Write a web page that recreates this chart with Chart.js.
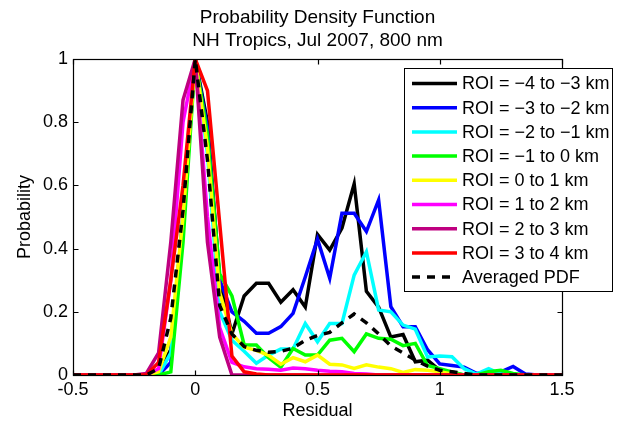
<!DOCTYPE html>
<html><head><meta charset="utf-8">
<script src="https://cdn.jsdelivr.net/npm/chart.js@4/dist/chart.umd.min.js"></script>
<style>html,body{margin:0;padding:0;background:#fff;}#wrap{width:625px;height:421px;}</style>
</head><body><div id="wrap"><canvas id="c" width="625" height="421"></canvas></div>
<script>
const residualBins = [-0.5,-0.45,-0.4,-0.35,-0.3,-0.25,-0.2,-0.15,-0.1,-0.05,0,0.05,0.1,0.15,0.2,0.25,0.3,0.35,0.4,0.45,0.5,0.55,0.6,0.65,0.7,0.75,0.8,0.85,0.9,0.95,1,1.05,1.1,1.15,1.2,1.25,1.3,1.35,1.4,1.45,1.5];

const roiM4 = [0,0,0,0,0,0, 0,0.01,0.08,0.5, 1, 0.8,0.3,0.13,0.25,0.29,0.29,0.23,0.27,0.215,0.445,0.395,0.465,0.605,0.265,0.215,0.12,0.128,0.042,0.047,0.015,0.005, 0,0,0,0,0,0,0,0,0];
const roiM3 = [0,0,0,0,0,0, 0,0,0.04,0.48, 1, 0.78,0.3,0.2,0.17,0.132,0.132,0.153,0.195,0.31,0.43,0.306,0.512,0.512,0.454,0.554,0.216,0.153,0.153,0.08,0.035,0.03,0.025,0.005,0.01,0.01,0.027,0.003,0,0,0];
const roiM2 = [0,0,0,0,0,0, 0,0,0.07,0.5, 1, 0.7,0.2,0.11,0.075,0.037,0.063,0.082,0.082,0.163,0.105,0.163,0.163,0.316,0.39,0.206,0.2,0.158,0.145,0.057,0.06,0.058,0.02,0.003,0.02,0.003,0,0,0,0,0];
const roiM1 = [0,0,0,0,0,0, 0,0,0.01,0.42, 1, 0.76,0.32,0.25,0.095,0.095,0.055,0.025,0.084,0.063,0.063,0.11,0.116,0.074,0.13,0.116,0.113,0.093,0.1,0.03,0.02,0.01,0,0,0.01,0.015,0.005,0,0,0,0];
const roi0  = [0,0,0,0,0,0, 0,0.01,0.12,0.5, 1, 0.72,0.26,0.13,0.088,0.078,0.062,0.034,0.055,0.042,0.063,0.034,0.032,0.021,0.032,0.025,0.02,0.008,0.017,0.015,0.01,0.003,0,0,0,0,0,0,0,0,0];
const roi1  = [0,0,0,0,0,0, 0,0.02,0.3,0.8, 1, 0.5,0.15,0.04,0.026,0.02,0.018,0.015,0.022,0.02,0.015,0.012,0.01,0.005,0.003,0,0,0,0,0,0,0,0,0,0,0,0,0,0,0,0];
const roi2  = [0,0,0,0,0,0, 0.005,0.07,0.42,0.87, 1, 0.42,0.12,0,0,0,0,0,0,0,0,0,0,0,0,0,0,0,0,0,0,0,0,0,0,0,0,0,0,0,0];
const roi3  = [0,0,0,0,0,0, 0,0.04,0.3,0.6, 1, 0.9,0.48,0.06,0.01,0.003,0,0,0,0,0,0,0,0,0,0,0,0,0,0,0,0,0,0,0,0,0,0,0,0,0];
const avgPdf = [0,0,0,0,0,0, 0,0.02,0.18,0.52, 1, 0.68,0.22,0.13,0.09,0.078,0.072,0.075,0.085,0.11,0.125,0.135,0.165,0.193,0.165,0.13,0.092,0.07,0.047,0.028,0.015,0.01,0.005,0,0,0,0,0,0,0,0];

const seriesLabels = ['ROI = \u22124 to \u22123 km','ROI = \u22123 to \u22122 km','ROI = \u22122 to \u22121 km','ROI = \u22121 to 0 km','ROI = 0 to 1 km','ROI = 1 to 2 km','ROI = 2 to 3 km','ROI = 3 to 4 km','Averaged PDF'];
const seriesColors = ['#000000','#0000ff','#00ffff','#00ff00','#ffff00','#ff00ff','#bf0080','#ff0000','#000000'];
const seriesValues = [roiM4, roiM3, roiM2, roiM1, roi0, roi1, roi2, roi3, avgPdf];

const xTickValues = [-0.5, 0, 0.5, 1, 1.5];
const xTickLabels = ['-0.5','0','0.5','1','1.5'];
const yTickValues = [0, 0.2, 0.4, 0.6, 0.8, 1];
const yTickLabels = ['0','0.2','0.4','0.6','0.8','1'];

const FONT = '"Liberation Sans", Arial, Helvetica, sans-serif';
Chart.defaults.font.family = FONT;
Chart.defaults.color = '#000';

const datasets = seriesValues.map((vals, k) => ({
  label: seriesLabels[k],
  data: residualBins.map((x, i) => ({x: x, y: vals[i]})),
  borderColor: seriesColors[k],
  backgroundColor: seriesColors[k],
  borderWidth: 3.5,
  borderDash: k === 8 ? [8, 7] : [],
  borderJoinStyle: 'miter',
  borderCapStyle: 'butt',
  pointRadius: 0,
  tension: 0,
  fill: false,
  order: seriesValues.length - k
}));

const boxPlugin = {
  id: 'axisBox',
  afterDatasetsDraw(chart) {
    const {ctx, chartArea: a, scales} = chart;
    ctx.save();
    ctx.strokeStyle = '#000';
    ctx.lineWidth = 1.2;
    const L = Math.round(a.left) + 0.5, R = Math.round(a.right) + 0.5, T = Math.round(a.top) + 0.5, B = Math.round(a.bottom) + 0.5;
    ctx.strokeRect(L, T, R - L, B - T);
    const tl = 5;
    ctx.beginPath();
    xTickValues.forEach(v => {
      const px = Math.round(scales.x.getPixelForValue(v)) + 0.5;
      ctx.moveTo(px, B); ctx.lineTo(px, B - tl);
      ctx.moveTo(px, T); ctx.lineTo(px, T + tl);
    });
    yTickValues.forEach(v => {
      const py = Math.round(scales.y.getPixelForValue(v)) + 0.5;
      ctx.moveTo(L, py); ctx.lineTo(L + tl, py);
      ctx.moveTo(R, py); ctx.lineTo(R - tl, py);
    });
    ctx.stroke();
    ctx.restore();
  }
};

const legendPlugin = {
  id: 'boxLegend',
  afterDraw(chart) {
    const ctx = chart.ctx;
    const x0 = 404, y0 = 68, w = 208, h = 223;
    ctx.save();
    ctx.fillStyle = '#fff';
    ctx.fillRect(x0, y0, w, h);
    ctx.strokeStyle = '#000';
    ctx.lineWidth = 1;
    ctx.strokeRect(x0 + 0.5, y0 + 0.5, w, h);
    ctx.font = '18px ' + FONT;
    ctx.textBaseline = 'middle';
    ctx.textAlign = 'left';
    chart.data.datasets.forEach((ds, i) => {
      const y = 83.5 + i * 24.2;
      ctx.strokeStyle = ds.borderColor;
      ctx.lineWidth = ds.borderWidth;
      ctx.setLineDash(ds.borderDash || []);
      ctx.beginPath(); ctx.moveTo(412, y); ctx.lineTo(457, y); ctx.stroke();
      ctx.setLineDash([]);
      ctx.fillStyle = '#000';
      ctx.fillText(ds.label, 462, y + 1);
    });
    ctx.restore();
  }
};

new Chart(document.getElementById('c'), {
  type: 'line',
  data: { datasets: datasets },
  plugins: [boxPlugin, legendPlugin],
  options: {
    responsive: false,
    animation: false,
    events: [],
    layout: { padding: { left: 0, right: 63, top: 0, bottom: 0 } },
    plugins: {
      legend: { display: false },
      tooltip: { enabled: false },
      title: {
        display: true,
        fullSize: false,
        text: ['Probability Density Function', 'NH Tropics, Jul 2007, 800 nm'],
        color: '#000',
        font: { size: 19, weight: 'normal', lineHeight: 23 / 19 },
        padding: { top: 6, bottom: 7 }
      }
    },
    scales: {
      x: {
        type: 'linear',
        min: -0.5, max: 1.5,
        afterBuildTicks: s => { s.ticks = xTickValues.map(v => ({value: v})); },
        afterFit: s => { s.height = 46; },
        grid: { display: false, drawTicks: false, tickLength: 0 },
        border: { display: false },
        ticks: {
          autoSkip: false, maxRotation: 0,
          padding: 4,
          font: { size: 18 },
          color: '#000',
          callback: (v, i) => xTickLabels[i]
        },
        title: { display: true, text: 'Residual', font: { size: 18, lineHeight: 1 }, padding: { top: 0, bottom: 1 }, color: '#000' }
      },
      y: {
        type: 'linear',
        min: 0, max: 1,
        afterBuildTicks: s => { s.ticks = yTickValues.map(v => ({value: v})); },
        afterFit: s => { s.width = 73; },
        grid: { display: false, drawTicks: false, tickLength: 0 },
        border: { display: false },
        ticks: {
          padding: 5,
          font: { size: 18 },
          color: '#000',
          callback: (v, i) => yTickLabels[i]
        },
        title: { display: true, text: 'Probability', font: { size: 18, lineHeight: 1 }, padding: { top: 16, bottom: 0 }, color: '#000' }
      }
    }
  }
});
</script>
</body></html>
